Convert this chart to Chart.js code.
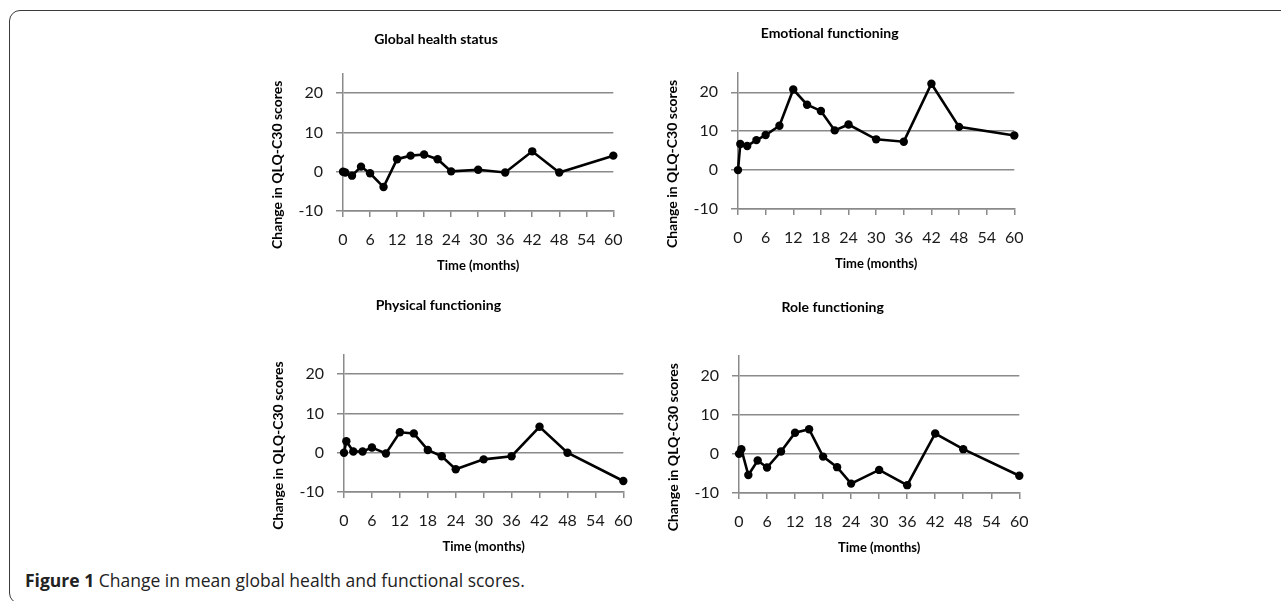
<!DOCTYPE html>
<html>
<head>
<meta charset="utf-8">
<script src="https://cdn.jsdelivr.net/npm/chart.js@4.4.1/dist/chart.umd.min.js"></script>
<style>
  body { margin: 0; width: 1281px; height: 601px; background: #fff; position: relative; overflow: hidden; }
  .frame { position: absolute; left: 9px; top: 10px; width: 1400px; height: 592px; border: 1.5px solid #3a3a3a; border-radius: 11px; }
  canvas { position: absolute; }
  .caption { position: absolute; left: 25px; top: 569px; font: 17.5px/22px "Open Sans", sans-serif; color: #222; white-space: nowrap; }
  .caption b { font-weight: 700; }
</style>
</head>
<body>
<div class="frame"></div>
<canvas id="global"></canvas>
<canvas id="emotional"></canvas>
<canvas id="physical"></canvas>
<canvas id="role"></canvas>
<div class="caption"><b>Figure 1</b> Change in mean global health and functional scores.</div>
<script>
// time points (months) and mean change per scale
const months = [0, 0.5, 2, 4, 6, 9, 12, 15, 18, 21, 24, 30, 36, 42, 48, 60];
const globalHealth = [0, -0.2, -1.0, 1.3, -0.4, -3.9, 3.2, 4.1, 4.4, 3.2, 0.1, 0.5, -0.2, 5.2, -0.2, 4.1];
const emotional = [0, 6.7, 6.2, 7.7, 9.0, 11.4, 20.7, 16.8, 15.2, 10.2, 11.7, 7.9, 7.3, 22.2, 11.1, 8.9];
const physical = [0, 2.9, 0.3, 0.3, 1.3, -0.2, 5.2, 4.9, 0.7, -0.9, -4.2, -1.7, -0.9, 6.6, 0, -7.2];
const role = [0, 1.2, -5.4, -1.7, -3.5, 0.6, 5.4, 6.3, -0.7, -3.4, -7.6, -4.1, -8.0, 5.2, 1.2, -5.6];

const yTicks = [-10, 0, 10, 20];
const yMin = -10, yMax = 25;
const xMin = 0, xMax = 60, xStep = 6;

const yTitle = 'Change in QLQ-C30 scores';
const xTitle = 'Time (months)';

const GRID = '#8a8a8a';
const TEXT = '#1a1a1a';
const FONT = 'Lato, "Open Sans", sans-serif';

// rotated y-axis title, anchored near the top of the plot like the original
const sideTitle = {
  id: 'sideTitle',
  afterDraw(chart, args, opts) {
    const { ctx, chartArea } = chart;
    ctx.save();
    ctx.translate(chartArea.left - opts.gap, chartArea.top + opts.offset);
    ctx.rotate(-Math.PI / 2);
    ctx.font = 'bold 14px ' + FONT;
    ctx.fillStyle = '#000';
    ctx.textAlign = 'right';
    ctx.textBaseline = 'middle';
    ctx.fillText(opts.text, 0, 0);
    ctx.restore();
  }
};

function drawPanel(id, title, values, box) {
  const yAxisW = 93, xAxisH = 66;
  const titleSize = 14, titleLH = titleSize * 1.2;
  const cl = box.left - yAxisW;
  const cw = Math.round(2 * (box.titleX - cl));
  const ct = box.titleY - 20;
  const ch = Math.round(box.bottom + xAxisH - ct);

  const canvas = document.getElementById(id);
  canvas.width = Math.max(cw, Math.ceil(box.right - cl + 14));
  canvas.height = ch;
  canvas.style.left = cl + 'px';
  canvas.style.top = ct + 'px';

  new Chart(canvas, {
    type: 'scatter',
    data: {
      datasets: [{
        data: months.map((m, i) => ({ x: m, y: values[i] })),
        showLine: true,
        borderColor: '#000',
        borderWidth: 2.6,
        pointRadius: 4.2,
        pointBackgroundColor: '#000',
        pointBorderWidth: 0,
        clip: false
      }]
    },
    options: {
      responsive: false,
      animation: false,
      devicePixelRatio: 1,
      layout: { padding: { left: 0, top: 0, bottom: 0, right: canvas.width - (box.right - cl) } },
      plugins: {
        legend: { display: false },
        tooltip: { enabled: false },
        title: {
          display: true,
          text: title,
          color: '#000',
          font: { family: FONT, size: titleSize, weight: 'bold', lineHeight: 1.2 },
          padding: { top: 20 - titleLH / 2, bottom: box.top - ct - 20 - titleLH / 2 }
        },
        sideTitle: { text: yTitle, gap: 66, offset: 7 }
      },
      scales: {
        x: {
          type: 'linear',
          min: xMin, max: xMax,
          afterFit: s => { s.height = xAxisH; },
          ticks: { stepSize: xStep, autoSkip: false, maxRotation: 0, padding: 13.4, color: TEXT,
                   font: { family: FONT, size: 16, lineHeight: 1.2 } },
          grid: { drawOnChartArea: false, drawTicks: true, tickLength: 6, color: GRID, lineWidth: 1.5 },
          border: { color: GRID, width: 1.5 },
          title: { display: true, text: xTitle, color: '#000', padding: { top: 0, bottom: 3.2 },
                   font: { family: FONT, size: 13, weight: 'bold', lineHeight: 1.2 } }
        },
        y: {
          min: yMin, max: yMax,
          afterFit: s => { s.width = yAxisW; },
          afterBuildTicks: s => { s.ticks = yTicks.map(v => ({ value: v })); },
          ticks: { padding: 13, color: TEXT, font: { family: FONT, size: 16, lineHeight: 1.2 } },
          grid: { color: GRID, lineWidth: 1.5, tickLength: 7 },
          border: { color: GRID, width: 1.5 }
        }
      }
    },
    plugins: [sideTitle]
  });
}

drawPanel('global', 'Global health status', globalHealth,
  { left: 343, right: 622, top: 73.6, bottom: 211, titleX: 442, titleY: 39 });
drawPanel('emotional', 'Emotional functioning', emotional,
  { left: 737.7, right: 1014, top: 72.8, bottom: 209, titleX: 854, titleY: 33 });
drawPanel('physical', 'Physical functioning', physical,
  { left: 344.3, right: 626, top: 354.4, bottom: 492.3, titleX: 449, titleY: 305 });
drawPanel('role', 'Role functioning', role,
  { left: 739, right: 1019.3, top: 356, bottom: 493.3, titleX: 855, titleY: 307 });
</script>
</body>
</html>
